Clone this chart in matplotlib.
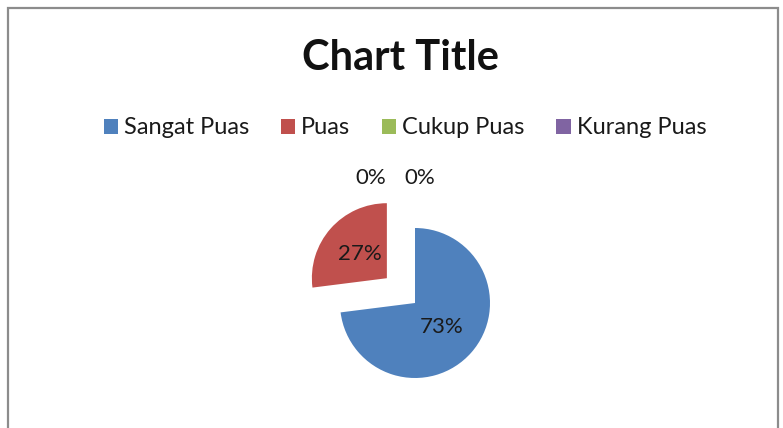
import numpy as np
import matplotlib.pyplot as plt
from matplotlib.patches import Rectangle, Patch

kategori = ["Sangat Puas", "Puas", "Cukup Puas", "Kurang Puas"]
nilai = [73, 27, 0, 0]
warna = ["#4F81BD", "#C0504D", "#9BBB59", "#8064A2"]
explode = [0, 0.5, 0, 0]

plt.rcParams['font.family'] = ['Lato', 'DejaVu Sans']

fig = plt.figure(figsize=(7.83, 4.28), dpi=100)
W, H = 783, 428

# frame like the excel chart area
fig.patches.append(Rectangle((8 / W, -0.05), (778 - 8) / W, (H - 8) / H + 0.05,
                             transform=fig.transFigure, fill=False,
                             edgecolor="#8c8c8c", linewidth=1.6))

fig.text(400 / W, 1 - 58 / H, "Chart Title", ha="center", va="center",
         fontsize=30, fontweight="bold", color="#111111")

# pie axes: centre at (415, 303) px, radius 75 px
lado = 240
ax = fig.add_axes([(415 - lado / 2) / W, (H - 303 - lado / 2) / H, lado / W, lado / H])

wedges, texts, autotexts = ax.pie(nilai, colors=warna, explode=explode, startangle=90,
                                  counterclock=False, radius=1.0, pctdistance=0.48,
                                  autopct=lambda p: "%.0f%%" % p,
                                  wedgeprops=dict(linewidth=0),
                                  textprops=dict(fontsize=16, color="#1a1a1a"))
# pie() resets the limits, so set them afterwards
ax.set_xlim(-1.6, 1.6)
ax.set_ylim(-1.6, 1.6)
ax.set_aspect("equal")
ax.axis("off")

# zero slices: labels pushed above the pie like excel does
posisi_nol = [(-0.59, 1.67), (0.07, 1.67)]
j = 0
for i, v in enumerate(nilai):
    if v == 0:
        autotexts[i].set_position(posisi_nol[j])
        j += 1

handles = [Patch(facecolor=c, edgecolor="none") for c in warna]
fig.legend(handles, kategori, loc="center", bbox_to_anchor=(405 / W, 1 - 128 / H),
           ncol=4, frameon=False, fontsize=17, handlelength=0.6, handleheight=0.6,
           handletextpad=0.25, columnspacing=1.35, labelcolor="#1a1a1a")

fig.savefig("out.png", dpi=100)
